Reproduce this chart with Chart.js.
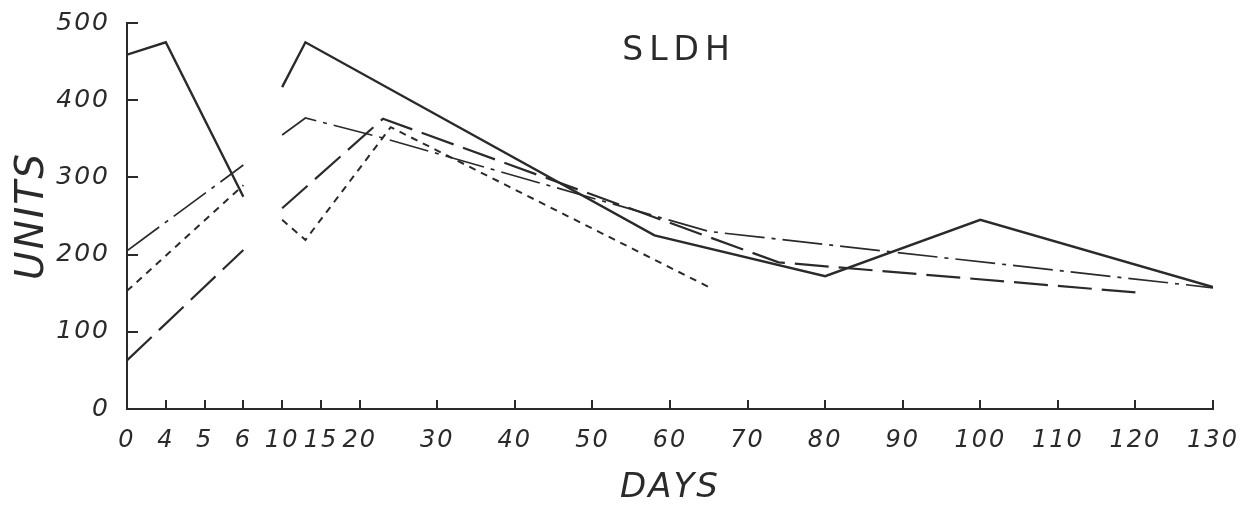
<!DOCTYPE html>
<html><head><meta charset="utf-8">
<script src="https://cdn.jsdelivr.net/npm/chart.js@4"></script>
<style>html,body{margin:0;padding:0;background:#fff;}canvas{display:block;}</style>
</head><body>
<canvas id="c" width="1254" height="509"></canvas>
<script>
// ---- data (days / units) ----
const tickDays = [0,4,5,6,10,15,20,30,40,50,60,70,80,90,100,110,120,130];
const yTicks = [0,100,200,300,400,500];
const breakDay = 8; // the curves are interrupted between day 6 and day 10

const solidDays = [0,4,6,10,13,58,80,100,130];
const solidVals = [459,475,275,417,475,225,172,245,158];

const dashDotDays = [0,6,10,13,23,65,130];
const dashDotVals = [205,316,355,377,351,230,157];

const shortDashDays = [0,6,10,13,24,65];
const shortDashVals = [153,290,245,219,365,158];

const longDashDays = [0,6,10,23,74,120];
const longDashVals = [63,206,260,376,190,151];

// ---- axis mapping: labelled days evenly spaced up to 20, then each 10 days takes two slots ----
const tickPos = tickDays.map((d,i)=> d<=20 ? i : 6 + (d-20)/5);
function dayToPos(d){
  for(let i=1;i<tickDays.length;i++){
    if(d<=tickDays[i]){
      const t=(d-tickDays[i-1])/(tickDays[i]-tickDays[i-1]);
      return tickPos[i-1]+t*(tickPos[i]-tickPos[i-1]);
    }
  }
  return tickPos[tickPos.length-1];
}
function build(days, vals){
  const out=[];
  days.forEach((d,i)=>{
    if(i>0 && days[i-1]<breakDay && d>breakDay) out.push({x:dayToPos(breakDay), y:null});
    out.push({x:dayToPos(d), y:vals[i]});
  });
  return out;
}

const ink = '#2a2a2a';
const FONT = "'DejaVu Sans', 'Liberation Sans', sans-serif";

const decor = {
  id:'decor',
  beforeDraw(chart){ chart.ctx.letterSpacing = '2px'; },
  afterDraw(chart){
    const ctx=chart.ctx, xs=chart.scales.x, ys=chart.scales.y, a=chart.chartArea;
    ctx.save();
    ctx.strokeStyle=ink; ctx.lineWidth=2;
    ctx.beginPath();
    xs.ticks.forEach(t=>{const px=Math.round(xs.getPixelForValue(t.value)); ctx.moveTo(px,a.bottom); ctx.lineTo(px,a.bottom-9);});
    ys.ticks.forEach(t=>{const py=Math.round(ys.getPixelForValue(t.value)); ctx.moveTo(a.left,py); ctx.lineTo(a.left+11,py);});
    ctx.stroke();
    ctx.fillStyle=ink; ctx.textAlign='center'; ctx.textBaseline='middle';
    ctx.letterSpacing='6px';
    ctx.font = `33px ${FONT}`;
    ctx.fillText('SLDH', (a.left+a.right)/2 + 9, a.top + 28);
    ctx.restore();
  }
};

const mk = (label, days, vals, dash, width) => ({
  label, data: build(days, vals), borderColor: ink, borderWidth: width,
  borderDash: dash, pointRadius: 0, tension: 0, fill: false, spanGaps: false
});

new Chart(document.getElementById('c'), {
  type: 'line',
  data: { datasets: [
    mk('solid', solidDays, solidVals, [], 2.4),
    mk('dash-dot', dashDotDays, dashDotVals, [40,7,4,7], 1.7),
    mk('short dash', shortDashDays, shortDashVals, [7,6], 2),
    mk('long dash', longDashDays, longDashVals, [34,10], 2.2)
  ]},
  options: {
    responsive: false, animation: false, devicePixelRatio: 1,
    layout: { padding: { top: 23, right: 41, bottom: 0, left: 0 } },
    plugins: { legend: { display: false }, tooltip: { enabled: false }, title: { display: false } },
    scales: {
      x: {
        type: 'linear', min: 0, max: tickPos[tickPos.length-1],
        afterBuildTicks: s => { s.ticks = tickPos.map(v => ({ value: v })); },
        afterFit: s => { s.height = 100; s.paddingLeft = 0; s.paddingRight = 0; },
        grid: { display: true, drawOnChartArea: false, drawTicks: false },
        border: { display: true, color: ink, width: 2 },
        ticks: {
          autoSkip: false, maxRotation: 0, padding: 17, color: ink,
          font: { family: FONT, size: 24, style: 'italic' },
          callback: v => { const i = tickPos.indexOf(v); return i >= 0 ? String(tickDays[i]) : ''; }
        },
        title: { display: true, text: 'DAYS', color: ink, padding: { top: 0, bottom: 0 },
                 font: { family: FONT, size: 34, style: 'italic' } }
      },
      y: {
        min: 0, max: 500,
        afterBuildTicks: s => { s.ticks = yTicks.map(v => ({ value: v })); },
        afterFit: s => { s.width = 127; s.paddingTop = 0; s.paddingBottom = 0; },
        grid: { display: true, drawOnChartArea: false, drawTicks: false },
        border: { display: true, color: ink, width: 2 },
        ticks: { padding: 17, color: ink, font: { family: FONT, size: 25, style: 'italic' } },
        title: { display: true, text: 'UNITS', color: ink, padding: { top: 9, bottom: 0 },
                 font: { family: FONT, size: 39, style: 'italic' } }
      }
    }
  },
  plugins: [decor]
});
</script>
</body></html>
